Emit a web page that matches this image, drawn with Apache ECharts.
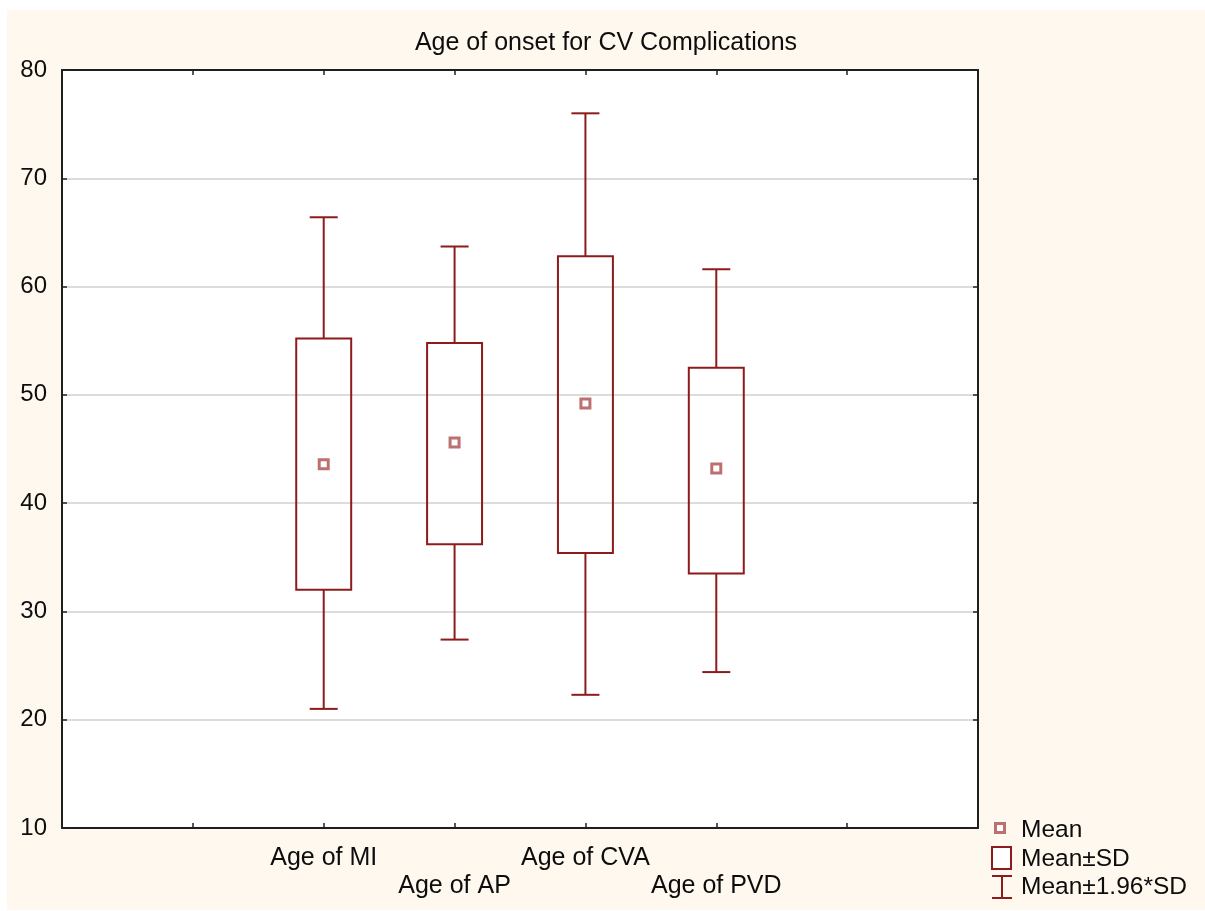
<!DOCTYPE html>
<html>
<head>
<meta charset="utf-8">
<title>Age of onset for CV Complications</title>
<script src="https://cdn.jsdelivr.net/npm/echarts@6/dist/echarts.min.js"></script>
<style>
  html, body { margin: 0; padding: 0; background: #ffffff; }
  #wrap { position: relative; width: 1205px; height: 911px; background: #ffffff; }
  #chart { position: absolute; left: 7px; top: 10px; width: 1198px; height: 900px; }
</style>
</head>
<body>
<div id="wrap"><div id="chart"></div></div>
<script>
// Age of onset (years) per complication
const categories = ['Age of MI', 'Age of AP', 'Age of CVA', 'Age of PVD'];
const means      = [43.6, 45.6, 49.2, 43.2];
const sdLow      = [32.0, 36.2, 35.4, 33.5];   // Mean - SD
const sdHigh     = [55.2, 54.8, 62.8, 52.5];   // Mean + SD
const ciLow      = [21.0, 27.4, 22.3, 24.4];   // Mean - 1.96*SD
const ciHigh     = [66.4, 63.7, 76.0, 61.6];   // Mean + 1.96*SD
const yTicks     = [10, 20, 30, 40, 50, 60, 70, 80];

// categories sit on slots 2..5 of a 0..7 axis
const SLOT0 = 2;
const FONT = "'Liberation Sans', Arial, sans-serif";
const DARK_RED = '#8e1b1b';
const MEAN_RED = '#bd7070';
const TEXT = '#0d0d0d';

const rows = categories.map((c, i) => [i + SLOT0, ciLow[i], sdLow[i], means[i], sdHigh[i], ciHigh[i]]);

function renderBox(params, api) {
  const x = api.value(0);
  const pLo = api.coord([x, api.value(1)]);
  const bLo = api.coord([x, api.value(2)]);
  const pM  = api.coord([x, api.value(3)]);
  const bHi = api.coord([x, api.value(4)]);
  const pHi = api.coord([x, api.value(5)]);
  const unit = api.size([1, 0])[0];
  const halfBox = unit * 0.21;
  const halfCap = unit * 0.107;
  const cx = pM[0];
  const line = { stroke: DARK_RED, lineWidth: 2 };
  return {
    type: 'group',
    children: [
      { type: 'line', shape: { x1: cx, y1: pHi[1], x2: cx, y2: bHi[1] }, style: line },
      { type: 'line', shape: { x1: cx, y1: bLo[1], x2: cx, y2: pLo[1] }, style: line },
      { type: 'line', shape: { x1: cx - halfCap, y1: pHi[1], x2: cx + halfCap, y2: pHi[1] }, style: line },
      { type: 'line', shape: { x1: cx - halfCap, y1: pLo[1], x2: cx + halfCap, y2: pLo[1] }, style: line },
      { type: 'rect', shape: { x: cx - halfBox, y: bHi[1], width: halfBox * 2, height: bLo[1] - bHi[1] },
        style: { fill: 'rgba(0,0,0,0)', stroke: DARK_RED, lineWidth: 2 } },
      { type: 'rect', shape: { x: cx - 4.5, y: pM[1] - 4.5, width: 9, height: 9 },
        style: { fill: '#ffffff', stroke: MEAN_RED, lineWidth: 3 } }
    ]
  };
}

const chart = echarts.init(document.getElementById('chart'), null, { renderer: 'canvas' });

const tickStyle = { inside: true, length: 5, lineStyle: { color: '#222222', width: 1.5 } };
const frameLine = { show: true, onZero: false, lineStyle: { color: '#1e1e1e', width: 2 } };

chart.setOption({
  backgroundColor: '#fef8ee',
  animation: false,
  title: {
    text: 'Age of onset for CV Complications',
    left: 'center',
    top: 16,
    textStyle: { fontFamily: FONT, fontSize: 25, fontWeight: 'normal', color: TEXT }
  },
  grid: {
    left: 55, top: 60, right: 227, bottom: 82,
    show: true, backgroundColor: '#ffffff', borderColor: 'transparent', borderWidth: 0
  },
  xAxis: [
    {
      type: 'value', position: 'bottom', min: 0, max: 7, interval: 1,
      axisLine: frameLine,
      splitLine: { show: false },
      axisTick: tickStyle,
      axisLabel: {
        margin: 16, lineHeight: 28, fontSize: 25, fontFamily: FONT, color: TEXT,
        showMinLabel: true, showMaxLabel: true,
        formatter: function (v) {
          const i = Math.round(v) - SLOT0;
          if (i < 0 || i >= categories.length) return '';
          // alternate labels drop to a second row
          return i % 2 === 1 ? '\n' + categories[i] : categories[i];
        }
      }
    },
    {
      type: 'value', position: 'top', min: 0, max: 7, interval: 1,
      axisLine: frameLine,
      splitLine: { show: false }, axisLabel: { show: false },
      axisTick: tickStyle
    }
  ],
  yAxis: [
    {
      type: 'value', position: 'left', min: yTicks[0], max: yTicks[yTicks.length - 1], interval: 10,
      axisLine: frameLine,
      axisTick: tickStyle,
      splitLine: { show: true, showMinLine: false, showMaxLine: false, lineStyle: { color: '#dcdcdc', width: 2 } },
      axisLabel: { margin: 15, fontSize: 24, fontFamily: FONT, color: TEXT }
    },
    {
      type: 'value', position: 'right', min: yTicks[0], max: yTicks[yTicks.length - 1], interval: 10,
      axisLine: frameLine,
      splitLine: { show: false }, axisLabel: { show: false },
      axisTick: tickStyle
    }
  ],
  series: [{
    type: 'custom',
    name: 'Age of onset',
    xAxisIndex: 0, yAxisIndex: 0,
    renderItem: renderBox,
    encode: { x: 0, y: [1, 2, 3, 4, 5] },
    data: rows,
    z: 5
  }],
  graphic: [
    // legend: Mean
    { type: 'rect', shape: { x: 988.5, y: 813.5, width: 9, height: 9 },
      style: { fill: '#ffffff', stroke: MEAN_RED, lineWidth: 3 } },
    { type: 'text', x: 1014, y: 820,
      style: { text: 'Mean', fontSize: 24.5, fontFamily: FONT, fill: TEXT, verticalAlign: 'middle' } },
    // legend: Mean±SD
    { type: 'rect', shape: { x: 985, y: 837, width: 19, height: 22 },
      style: { fill: '#ffffff', stroke: DARK_RED, lineWidth: 2 } },
    { type: 'text', x: 1014, y: 849,
      style: { text: 'Mean±SD', fontSize: 24.5, fontFamily: FONT, fill: TEXT, verticalAlign: 'middle' } },
    // legend: Mean±1.96*SD
    { type: 'line', shape: { x1: 985, y1: 866, x2: 1005, y2: 866 }, style: { stroke: DARK_RED, lineWidth: 2 } },
    { type: 'line', shape: { x1: 995, y1: 866, x2: 995, y2: 888 }, style: { stroke: DARK_RED, lineWidth: 2 } },
    { type: 'line', shape: { x1: 985, y1: 888, x2: 1005, y2: 888 }, style: { stroke: DARK_RED, lineWidth: 2 } },
    { type: 'text', x: 1014, y: 877,
      style: { text: 'Mean±1.96*SD', fontSize: 24.5, fontFamily: FONT, fill: TEXT, verticalAlign: 'middle' } }
  ]
});
</script>
</body>
</html>
